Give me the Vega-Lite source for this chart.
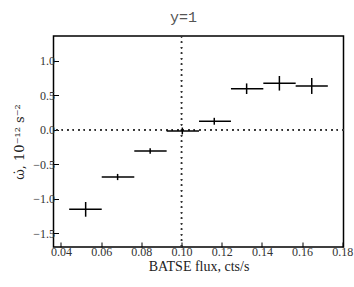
{
  "$schema": "https://vega.github.io/schema/vega-lite/v6.json",
  "width": 290,
  "height": 211,
  "autosize": "none",
  "padding": {"left": 53.5, "top": 36, "right": 10.5, "bottom": 40},
  "background": "white",
  "title": {"text": "y=1", "font": "Liberation Mono", "fontSize": 15, "fontWeight": "normal", "color": "#555555", "offset": 10, "dx": -15},
  "config": {
    "view": {"stroke": "black", "strokeWidth": 1.5},
    "axis": {
      "domain": false,
      "grid": false,
      "tickColor": "black",
      "tickSize": -5,
      "tickWidth": 1,
      "labelFont": "Liberation Serif",
      "labelFontSize": 12,
      "labelColor": "#333333",
      "titleFont": "Liberation Serif",
      "titleFontSize": 14,
      "titleFontWeight": "normal",
      "titleColor": "#222222"
    }
  },
  "data": {
    "values": [
      {"x": 0.0523, "xlo": 0.0441, "xhi": 0.0603, "y": -1.156, "ylo": -1.263, "yhi": -1.049},
      {"x": 0.0682, "xlo": 0.0603, "xhi": 0.0765, "y": -0.686, "ylo": -0.731, "yhi": -0.641},
      {"x": 0.0844, "xlo": 0.0765, "xhi": 0.0926, "y": -0.308, "ylo": -0.348, "yhi": -0.268},
      {"x": 0.1004, "xlo": 0.0926, "xhi": 0.1087, "y": -0.017, "ylo": -0.067, "yhi": 0.033},
      {"x": 0.1163, "xlo": 0.1087, "xhi": 0.1246, "y": 0.124, "ylo": 0.074, "yhi": 0.174},
      {"x": 0.1324, "xlo": 0.1246, "xhi": 0.1407, "y": 0.597, "ylo": 0.52, "yhi": 0.674},
      {"x": 0.1487, "xlo": 0.1407, "xhi": 0.1568, "y": 0.676, "ylo": 0.57, "yhi": 0.782},
      {"x": 0.1648, "xlo": 0.1568, "xhi": 0.1728, "y": 0.637, "ylo": 0.521, "yhi": 0.753}
    ]
  },
  "layer": [
    {
      "mark": {"type": "rule", "color": "#333333", "strokeWidth": 1.2, "strokeDash": [1.2, 4.3]},
      "encoding": {"x": {"datum": 0.1, "type": "quantitative"}}
    },
    {
      "mark": {"type": "rule", "color": "#333333", "strokeWidth": 1.2, "strokeDash": [1.2, 4.3]},
      "encoding": {"y": {"datum": 0, "type": "quantitative"}}
    },
    {
      "mark": {"type": "rule", "color": "black", "strokeWidth": 1.5},
      "encoding": {
        "x": {
          "field": "xlo", "type": "quantitative",
          "scale": {"domain": [0.0363, 0.1806], "nice": false, "zero": false},
          "axis": {"values": [0.04, 0.06, 0.08, 0.1, 0.12, 0.14, 0.16, 0.18], "format": ".2f", "title": "BATSE flux, cts/s", "labelPadding": 4, "titlePadding": 2}
        },
        "x2": {"field": "xhi"},
        "y": {
          "field": "y", "type": "quantitative",
          "scale": {"domain": [-1.703, 1.363], "nice": false, "zero": false},
          "axis": {"values": [-1.5, -1.0, -0.5, 0, 0.5, 1.0], "format": ".1f", "title": "ω̇, 10⁻¹² s⁻²", "titleFont": "DejaVu Serif", "titleFontSize": 13, "labelPadding": 4, "titlePadding": 6}
        }
      }
    },
    {
      "mark": {"type": "rule", "color": "black", "strokeWidth": 1.5},
      "encoding": {
        "x": {"field": "x", "type": "quantitative"},
        "y": {"field": "ylo", "type": "quantitative"},
        "y2": {"field": "yhi"}
      }
    }
  ]
}
